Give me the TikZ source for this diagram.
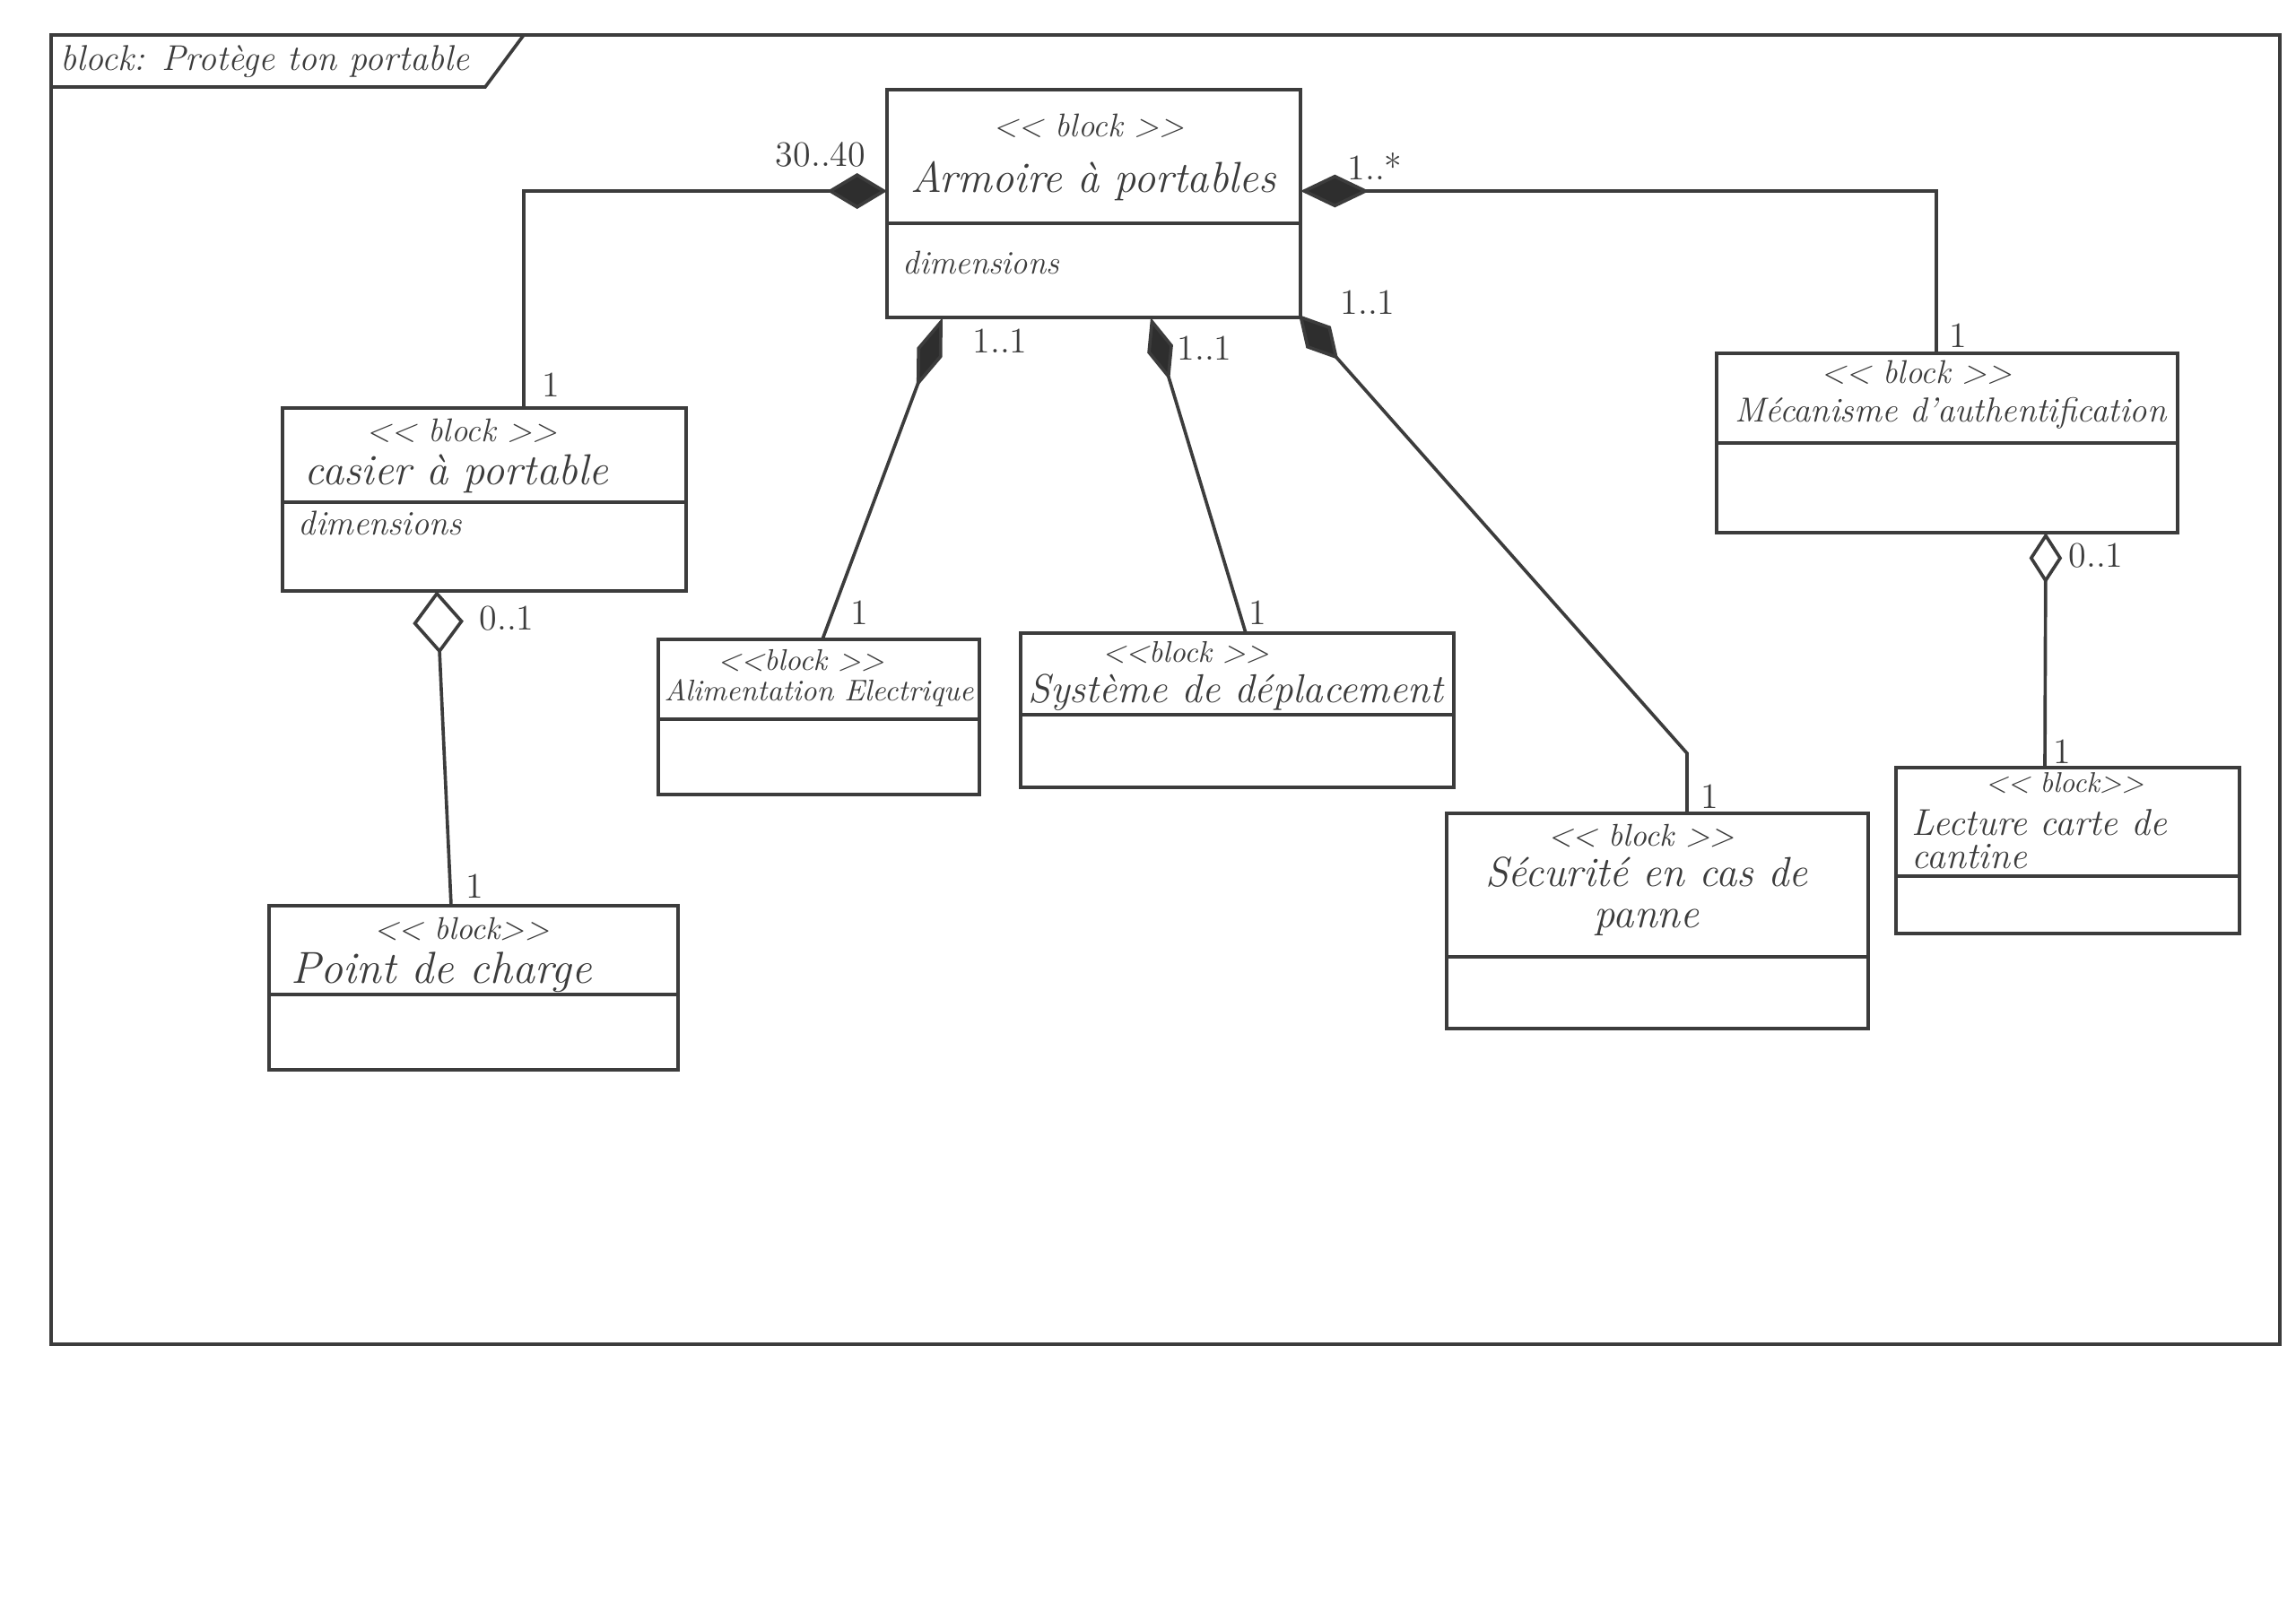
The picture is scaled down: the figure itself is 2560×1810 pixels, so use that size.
\documentclass[tikz,border=0pt]{standalone}
\usetikzlibrary{arrows.meta,fit}
\definecolor{pen}{HTML}{3C3C3C}
\definecolor{ink}{HTML}{2E2E2E}
\newcommand{\fs}[1]{\fontsize{#1}{#1}\selectfont}
\newcommand{\stL}{<\kern0pt<}
\newcommand{\stR}{>\kern0pt>}
\begin{document}
\begin{tikzpicture}[x=0.3pt,y=-0.3pt,
  line width=1.1pt, draw=pen,
  blk/.style={draw=pen, line width=1.1pt, inner sep=0pt},
  ttx/.style={inner sep=0pt, text=pen, font=\itshape},
  mult/.style={inner sep=0pt, text=pen, font=\fs{12}},
  cmp/.style={draw=pen, line width=1.1pt},
]
\useasboundingbox (0,0) rectangle (2560,1810);
\fill[white] (0,0) rectangle (2560,1810);

% frame
\node[blk, fit={(57,39)(2542,1499)}] (frame) {};
\draw[pen] (frame.west |- 0,97) -- (541,97) -- (584,39);
\node[ttx, anchor=west, font=\itshape\fs{12}] (title) at (66,69) {block: Protège ton portable};

% blocks
\node[blk, fit={(989,100)(1450,354)}] (arm) {};
\draw (arm.west |- 0,249) -- (arm.east |- 0,249);
\node[ttx, font=\itshape\fs{11}] (armS) at (1214,140) {\stL{} block \stR};
\node[ttx, font=\itshape\fs{14.5}] (armN) at (1219,202) {Armoire à portables};
\node[ttx, anchor=west, font=\itshape\fs{11}] (armA) at (1005,293) {dimensions};

\node[blk, fit={(315,455)(765,659)}] (cas) {};
\draw (cas.west |- 0,560) -- (cas.east |- 0,560);
\node[ttx, font=\itshape\fs{11}] (casS) at (515,480) {\stL{} block \stR};
\node[ttx, font=\itshape\fs{14.5}] (casN) at (509,528) {casier à portable};
\node[ttx, anchor=west, font=\itshape\fs{11.5}] (casA) at (331,583) {dimensions};

\node[blk, fit={(300,1010)(756,1193)}] (pdc) {};
\draw (pdc.west |- 0,1109) -- (pdc.east |- 0,1109);
\node[ttx, font=\itshape\fs{10.5}] (pdcS) at (515,1036) {\stL{} block\stR};
\node[ttx, font=\itshape\fs{15}] (pdcN) at (492,1084) {Point de charge};

\node[blk, fit={(734,713)(1092,886)}] (ali) {};
\draw (ali.west |- 0,802) -- (ali.east |- 0,802);
\node[ttx, font=\itshape\fs{10}] (aliS) at (893,737) {\stL block \stR};
\node[ttx, font=\itshape\fs{10}] (aliN) at (913,773) {Alimentation Electrique};

\node[blk, fit={(1138,706)(1621,878)}] (sys) {};
\draw (sys.west |- 0,797) -- (sys.east |- 0,797);
\node[ttx, font=\itshape\fs{10}] (sysS) at (1322,728) {\stL block \stR};
\node[ttx, font=\itshape\fs{13.5}] (sysN) at (1378,772) {Système de déplacement};

\node[blk, fit={(1613,907)(2083,1147)}] (sec) {};
\draw (sec.west |- 0,1067) -- (sec.east |- 0,1067);
\node[ttx, font=\itshape\fs{10.5}] (secS) at (1830,932) {\stL{} block \stR};
\node[ttx, font=\itshape\fontsize{14}{13.8}\selectfont, align=center] (secN) at (1836,1000) {Sécurité en cas de\\panne};

\node[blk, fit={(1914,394)(2428,594)}] (mec) {};
\draw (mec.west |- 0,494) -- (mec.east |- 0,494);
\node[ttx, font=\itshape\fs{11}] (mecS) at (2137,415) {\stL{} block \stR};
\node[ttx, font=\itshape\fs{11.6}] (mecN) at (2175,461) {Mécanisme d'authentification};

\node[blk, fit={(2114,856)(2497,1041)}] (lec) {};
\draw (lec.west |- 0,977) -- (lec.east |- 0,977);
\node[ttx, font=\itshape\fs{9.5}] (lecS) at (2302,873) {\stL{} block\stR};
\node[ttx, anchor=west, align=left, font=\itshape\fontsize{12.5}{11}\selectfont] (lecN) at (2130,936) {Lecture carte de\\cantine};

% connector end points
\coordinate (aL) at (989,213);
\coordinate (aR) at (1450,213);
\coordinate (aB1) at (1051,354);
\coordinate (aB2) at (1283,354);
\coordinate (aB3) at (1448,351);
\coordinate (casT) at (584,455);
\coordinate (mecT) at (2159,394);
\coordinate (aliT) at (917,713);
\coordinate (sysT) at (1389,706);
\coordinate (secBend) at (1881,840);
\coordinate (secT) at (1881,907);
\coordinate (casB) at (487,659);
\coordinate (pdcT) at (503,1010);
\coordinate (mecB) at (2281,594);
\coordinate (lecT) at (2280,856);

% compositions
\draw[cmp, {Diamond[length=20pt,width=12pt,fill=ink]}-] (aL) -| (casT);
\draw[cmp, {Diamond[length=23pt,width=11pt,fill=ink]}-] (aR) -| (mecT);
\draw[cmp, {Diamond[length=25pt,width=9pt,fill=ink]}-] (aB1) -- (aliT);
\draw[cmp, {Diamond[length=22pt,width=9pt,fill=ink]}-] (aB2) -- (sysT);
\draw[cmp, {Diamond[length=20pt,width=11pt,fill=ink]}-] (aB3) -- (secBend) -- (secT);
% aggregations
\draw[cmp, {Diamond[open,length=21pt,width=17pt,fill=white]}-] (casB) -- (pdcT);
\draw[cmp, {Diamond[open,length=17pt,width=11pt,fill=white]}-] (mecB) -- (lecT);

% multiplicities
\node[mult] (m1) at (915,172) {30..40};
\node[mult] (m2) at (614,429) {1};
\node[mult] (m3) at (1533,185) {1..*};
\node[mult] (m4) at (1115,380) {1..1};
\node[mult] (m5) at (1343,388) {1..1};
\node[mult] (m6) at (1525,337) {1..1};
\node[mult] (m7) at (958,683) {1};
\node[mult] (m8) at (1402,683) {1};
\node[mult] (m9) at (1906,888) {1};
\node[mult] (m10) at (2183,374) {1};
\node[mult] (m11) at (565,690) {0..1};
\node[mult] (m12) at (529,988) {1};
\node[mult] (m13) at (2337,620) {0..1};
\node[mult] (m14) at (2299,838) {1};
\end{tikzpicture}
\end{document}
